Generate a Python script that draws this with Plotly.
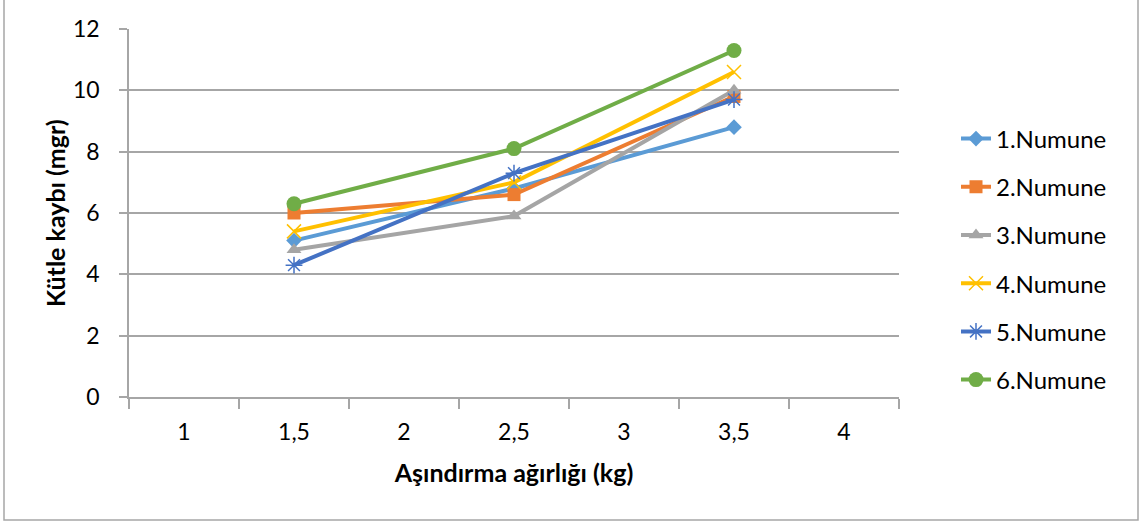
import plotly.graph_objects as go

categories = ["1", "1,5", "2", "2,5", "3", "3,5", "4"]
x_points = ["1,5", "2,5", "3,5"]
series_names = ["1.Numune", "2.Numune", "3.Numune", "4.Numune", "5.Numune", "6.Numune"]
numune1 = [5.1, 6.8, 8.8]
numune2 = [6.0, 6.6, 9.8]
numune3 = [4.8, 5.9, 10.0]
numune4 = [5.4, 7.0, 10.6]
numune5 = [4.3, 7.3, 9.7]
numune6 = [6.3, 8.1, 11.3]
values = [numune1, numune2, numune3, numune4, numune5, numune6]

colors = ["#5B9BD5", "#ED7D31", "#A5A5A5", "#FFC000", "#4472C4", "#70AD47"]
symbols = ["diamond", "square", "triangle-up", "x-thin-open", "asterisk-open", "circle"]
sizes = [12, 13, 13, 14, 14, 15]

FONT = "Lato"

fig = go.Figure()
for i, (name, vals) in enumerate(zip(series_names, values)):
    open_sym = symbols[i].endswith("open")
    fig.add_trace(go.Scatter(
        x=x_points, y=vals, name=name, mode="lines+markers",
        legendgroup=name,
        line=dict(color=colors[i], width=4),
        marker=dict(symbol=symbols[i], size=sizes[i], color=colors[i],
                    line=dict(color=colors[i], width=1.5 if open_sym else 0)),
    ))

L, R, T, B = 129, 899, 29, 397
W, H = 1141, 522
pw, ph = R - L, B - T

fig.update_layout(
    width=W, height=H,
    margin=dict(l=L, r=W - R, t=T, b=H - B, autoexpand=False),
    paper_bgcolor="white", plot_bgcolor="white",
    font=dict(family=FONT, size=23, color="black"),
    showlegend=True,
    legend=dict(x=(956 - L) / pw, xanchor="left", y=(B - 259.5) / ph, yanchor="middle",
                tracegroupgap=14, font=dict(family=FONT, size=24, color="black"),
                bgcolor="rgba(0,0,0,0)"),
    xaxis=dict(type="category", categoryorder="array", categoryarray=categories,
               range=[-0.5, 6.5], tickmode="array", tickvals=categories,
               showline=True, linecolor="#A6A6A6", linewidth=1.5,
               ticks="outside", ticklen=10, tickcolor="#A6A6A6", tickwidth=1.5,
               tickson="boundaries", showgrid=False, zeroline=False,
               ticklabelstandoff=14,
               tickfont=dict(family=FONT, size=23),
               title=dict(text="<b>Aşındırma ağırlığı (kg)</b>", standoff=20,
                          font=dict(family=FONT, size=25))),
    yaxis=dict(range=[0, 12], dtick=2, tick0=0,
               showline=True, linecolor="#A6A6A6", linewidth=1.5,
               ticks="outside", ticklen=8, tickcolor="#A6A6A6", tickwidth=1.5,
               showgrid=True, gridcolor="#A6A6A6", gridwidth=1.5, zeroline=False,
               ticklabelstandoff=15,
               tickfont=dict(family=FONT, size=23)),
    annotations=[dict(text="<b>Kütle kaybı (mgr)</b>", xref="paper", yref="paper",
                      x=(55 - L) / pw, y=0.5, xanchor="center", yanchor="middle",
                      textangle=-90, showarrow=False,
                      font=dict(family=FONT, size=25, color="black"))],
    shapes=[dict(type="rect", xref="paper", yref="paper",
                 x0=(4 - L) / pw, x1=(1138 - L) / pw,
                 y0=(B - 520) / ph, y1=(B + 5) / ph,
                 line=dict(color="#A6A6A6", width=1.5), fillcolor="rgba(0,0,0,0)",
                 layer="below")],
)

fig.write_html("out.html", config={"displayModeBar": False},
               post_script="document.body.style.margin='0';")
